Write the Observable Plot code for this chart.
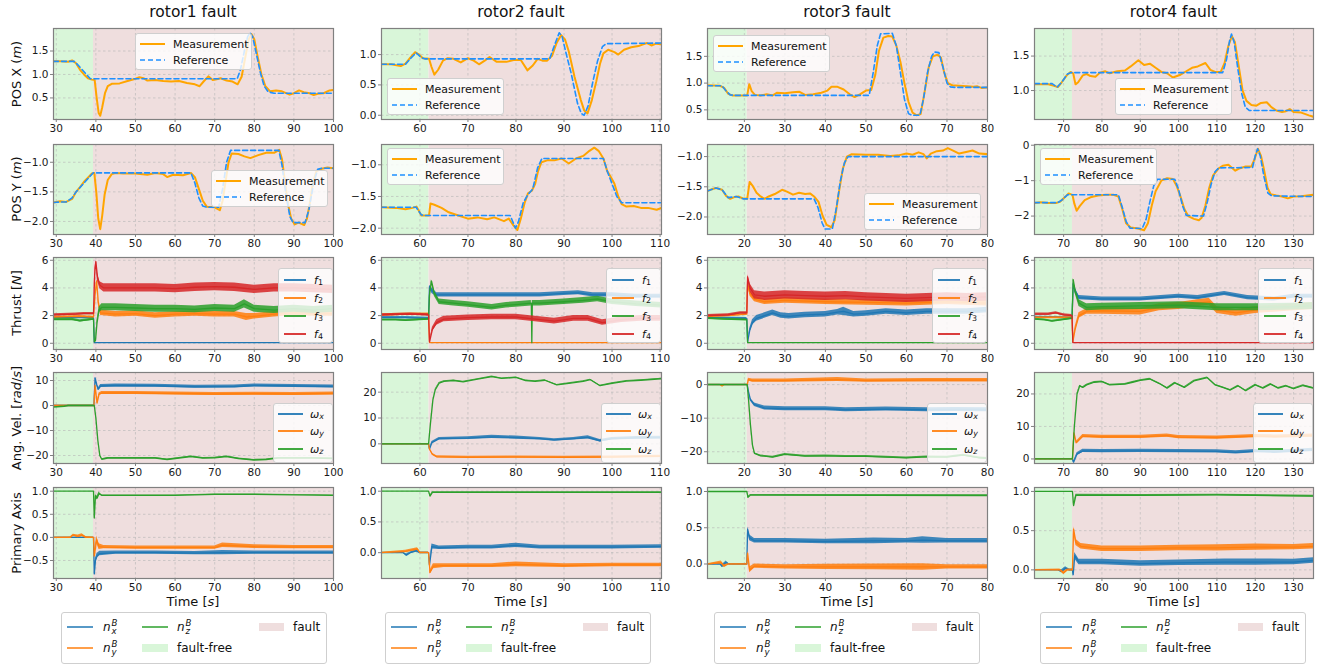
<!DOCTYPE html>
<html><head><meta charset="utf-8">
<script src="https://cdn.jsdelivr.net/npm/d3@7"></script>
<script src="https://cdn.jsdelivr.net/npm/@observablehq/plot@0.6"></script>
<style>
body{margin:0;background:#fff;font-family:"DejaVu Sans",sans-serif;}
#root{position:relative;width:1323px;height:668px;overflow:hidden;background:#fff;}
.abs{position:absolute;}
.title{position:absolute;font-size:15.5px;color:#111;transform:translate(-50%,-50%);white-space:nowrap;}
.ylab{position:absolute;font-size:13px;color:#111;transform:translate(-50%,-50%) rotate(-90deg);white-space:nowrap;}
.xlab{position:absolute;font-size:13px;color:#111;transform:translate(-50%,-50%);white-space:nowrap;}
.leg{position:absolute;box-sizing:border-box;border:1px solid #cfcfcf;border-radius:3px;background:rgba(255,255,255,0.8);font-size:11px;color:#111;}
.leg .lab{position:absolute;white-space:nowrap;transform:translateY(-50%);line-height:1;}
.leg svg.smp{position:absolute;overflow:visible;}
.ss{display:inline-flex;flex-direction:column;vertical-align:middle;font-size:0.72em;line-height:0.95;margin-left:1px;}
sub{font-size:0.72em;vertical-align:-0.25em;line-height:0;}
g[aria-label*="axis"] line, g[aria-label*="axis"] path, g[aria-label$="axis tick"] path {stroke:#808080;}
</style>
</head><body><div id="root"></div>
<script>
// ---------------- DATA ----------------
const columnTitles = ["rotor1 fault", "rotor2 fault", "rotor3 fault", "rotor4 fault"];
const xDomains = [[29.3, 100], [52, 110.3], [10.9, 80], [62.4, 135.2]];
const xTicks = [[30,40,50,60,70,80,90,100],[60,70,80,90,100,110],[20,30,40,50,60,70,80],[70,80,90,100,110,120,130]];
const faultTimes = [39.4, 61.9, 20.7, 72.3];

const rowLabels = ["POS X (<i>m</i>)", "POS Y (<i>m</i>)", "Thrust [<i>N</i>]", "Ang. Vel. [<i>rad</i>/<i>s</i>]", "Primary Axis"];

const yDomains = [
  [[0.04,1.98],[-2.22,-0.70],[-0.45,6.2],[-23.2,13.2],[-0.89,1.08]],
  [[-0.07,1.43],[-2.1,-0.68],[-0.45,6.2],[-7.6,27.6],[-0.42,1.06]],
  [[0.32,2.02],[-2.29,-0.80],[-0.45,6.2],[-23.5,3.6],[-0.2,1.055]],
  [[0.58,1.9],[-2.52,0.02],[-0.45,6.2],[-1.4,26.6],[-0.11,1.05]]
];
const yTicks = [
  [[0.5,1.0,1.5],[-2.0,-1.5,-1.0],[0,2,4,6],[-20,-10,0,10],[-0.5,0,0.5,1.0]],
  [[0,0.5,1.0],[-2.0,-1.5,-1.0],[0,2,4,6],[0,10,20],[0,0.5,1.0]],
  [[0.5,1.0,1.5],[-2.0,-1.5,-1.0],[0,2,4,6],[-20,-10,0],[0,0.5,1.0]],
  [[1.0,1.5],[-2,-1,0],[0,2,4,6],[0,10,20],[0,0.5,1.0]]
];
const yTickFormats = [
  [".1f",".1f","d","d",".1f"],
  [".1f",".1f","d","d",".1f"],
  [".1f",".1f","d","d",".1f"],
  [".1f","d","d","d",".1f"]
];

// ---- rotor1 fault ----
const c1_posX_meas = [[29.3,1.28],[31,1.28],[33,1.27],[34,1.30],[35,1.24],[36,1.1],[37,1.0],[38,0.92],[39,0.89],[39.7,0.88],[40.2,0.5],[40.7,0.18],[41.1,0.12],[41.6,0.3],[42.3,0.6],[43,0.75],[44,0.8],[46,0.81],[48,0.86],[50,0.91],[51,0.94],[52,0.92],[53,0.87],[55,0.88],[57,0.86],[59,0.85],[61,0.86],[63,0.82],[65,0.79],[66.2,0.75],[67.2,0.85],[68.4,0.96],[69.5,0.88],[70.5,0.9],[71.5,0.92],[73,0.87],[74.5,0.85],[75.8,0.79],[76.8,0.95],[77.8,1.4],[78.6,1.75],[79.3,1.86],[80,1.75],[80.8,1.4],[81.8,1.0],[82.8,0.75],[84,0.64],[85.5,0.66],[87,0.64],[88.9,0.57],[90,0.6],[91.3,0.66],[92.5,0.62],[94,0.6],[95,0.56],[96,0.59],[97.5,0.6],[99,0.66],[100,0.67]];
const c1_posX_ref = [[29.3,1.28],[34.5,1.28],[35.5,1.2],[38.6,0.91],[75.7,0.91],[76.5,1.1],[77.5,1.5],[78.3,1.8],[78.9,1.89],[79.6,1.8],[80.5,1.45],[81.5,1.05],[82.5,0.75],[83.5,0.63],[85,0.6],[100,0.6]];
const c1_posY_meas = [[29.3,-1.68],[31,-1.66],[32.5,-1.67],[34,-1.62],[35,-1.5],[36,-1.42],[37,-1.33],[38,-1.26],[39,-1.19],[39.6,-1.18],[40.1,-1.5],[40.6,-1.95],[41.1,-2.13],[41.6,-1.9],[42.2,-1.55],[43,-1.3],[44,-1.2],[45,-1.18],[47,-1.19],[50,-1.19],[53,-1.21],[55,-1.18],[57,-1.2],[58,-1.25],[59.5,-1.21],[62,-1.22],[64,-1.18],[65,-1.25],[66,-1.45],[67,-1.65],[68,-1.75],[70,-1.76],[71.3,-1.81],[72,-1.65],[72.8,-1.3],[73.5,-1.0],[74.3,-0.85],[76,-0.86],[77.5,-0.9],[79,-0.93],[81,-0.88],[83,-0.84],[85,-0.84],[86.3,-0.79],[87,-0.95],[87.7,-1.3],[88.5,-1.7],[89.3,-1.95],[90.2,-2.05],[91.2,-2.02],[92.6,-2.06],[93.3,-1.95],[94,-1.7],[94.8,-1.35],[95.7,-1.15],[97,-1.11],[98.5,-1.09],[100,-1.1]];
const c1_posY_ref = [[29.3,-1.68],[31,-1.67],[32.5,-1.67],[34,-1.6],[35,-1.5],[37,-1.35],[39.3,-1.18],[64,-1.18],[65,-1.35],[66,-1.6],[67,-1.74],[68,-1.76],[71,-1.76],[72,-1.45],[73,-1.0],[74,-0.8],[86.2,-0.8],[87,-1.05],[88,-1.55],[89,-1.92],[89.8,-2.02],[92.8,-2.02],[93.8,-1.8],[95,-1.35],[96,-1.12],[97,-1.1],[100,-1.1]];
// [time, mean, half noise width]
const c1_f1 = [[29.3,1.85,0.06],[39.4,1.85,0.06],[39.6,0.05,0],[100,0.05,0]];
const c1_f2 = [[29.3,1.9,0.06],[36,1.95,0.06],[39.4,1.9,0.06],[39.8,3.5,0.1],[40.2,4.5,0.1],[40.6,3.0,0.2],[41.2,2.2,0.2],[45,2.1,0.2],[50,2.15,0.2],[55,2.0,0.2],[60,2.1,0.2],[65,2.15,0.2],[70,2.1,0.2],[75,2.1,0.2],[78,1.9,0.25],[80,1.95,0.2],[85,2.1,0.2],[90,2.2,0.2],[95,2.15,0.2],[100,2.15,0.2]];
const c1_f3 = [[29.3,1.72,0.08],[34,1.72,0.08],[36,1.62,0.08],[39.4,1.75,0.08],[39.6,0.1,0],[39.9,0.2,0.1],[40.3,1.5,0.2],[40.8,2.4,0.2],[41.5,2.6,0.25],[45,2.6,0.25],[50,2.55,0.25],[55,2.5,0.25],[60,2.5,0.25],[65,2.45,0.25],[70,2.55,0.25],[75,2.5,0.25],[77.5,2.85,0.3],[80,2.5,0.25],[85,2.4,0.25],[90,2.5,0.25],[95,2.4,0.25],[100,2.5,0.25]];
const c1_f4 = [[29.3,2.05,0.08],[35,2.1,0.08],[37,2.15,0.08],[39.4,2.15,0.08],[39.7,5.0,0.3],[40.0,5.9,0.1],[40.4,4.8,0.3],[41,4.2,0.25],[42,4.0,0.3],[50,4.0,0.3],[55,4.0,0.3],[60,3.95,0.3],[65,4.05,0.3],[70,4.1,0.3],[75,4.05,0.3],[80,3.9,0.3],[85,4.0,0.3],[90,4.0,0.3],[95,3.95,0.3],[100,3.9,0.3]];
const c1_wx = [[29.3,0,0.1],[39.5,0,0.1],[39.8,11,0.3],[40.2,8.5,0.5],[40.6,6.5,0.5],[41.2,7.8,0.6],[45,8,0.6],[55,7.9,0.6],[65,7.5,0.6],[75,7.6,0.6],[80,8,0.6],[90,7.8,0.6],[100,7.6,0.6]];
const c1_wy = [[29.3,0,0.15],[39.5,0,0.15],[39.8,8,0.3],[40.3,1,0.3],[40.8,4.5,0.5],[41.5,5,0.6],[50,5,0.6],[60,4.8,0.6],[70,4.6,0.6],[80,4.7,0.6],[90,4.6,0.6],[100,4.8,0.6]];
const c1_wz = [[29.3,-0.6,0.1],[32,-0.3,0.1],[33,0,0.1],[39.6,0,0.1],[40.0,-5,0.2],[40.5,-14,0.2],[41,-20,0.2],[41.5,-21.5,0.2],[43,-21,0.25],[48,-21,0.25],[55,-21,0.25],[58,-21.6,0.25],[61,-21,0.25],[64,-20.4,0.25],[67,-21,0.25],[70,-20.9,0.25],[73,-20.4,0.25],[76,-21.2,0.25],[80,-21.8,0.25],[83,-21.6,0.25],[86,-21.0,0.25],[90,-21.0,0.25],[95,-21,0.25],[100,-21.2,0.25]];
const c1_nx = [[29.3,0,0.005],[39.4,0,0.005],[39.6,-0.79,0.02],[39.9,-0.5,0.05],[40.3,-0.4,0.05],[41,-0.35,0.05],[45,-0.33,0.035],[55,-0.33,0.035],[65,-0.34,0.035],[72,-0.33,0.045],[80,-0.33,0.035],[90,-0.33,0.035],[100,-0.33,0.035]];
const c1_ny = [[29.3,0,0.005],[33.5,0,0.01],[34.3,0.05,0.02],[35.5,0.02,0.03],[36.5,0.05,0.03],[37.5,0,0.02],[39.4,0,0.01],[39.6,-0.4,0.05],[40.2,-0.05,0.08],[40.8,-0.2,0.06],[42,-0.21,0.035],[50,-0.22,0.035],[60,-0.22,0.035],[70,-0.22,0.035],[72,-0.17,0.05],[80,-0.2,0.04],[90,-0.21,0.035],[100,-0.21,0.035]];
const c1_nz = [[29.3,1,0],[39.4,1,0],[39.6,0.42,0.03],[39.9,0.9,0.03],[40.3,0.85,0.04],[40.8,0.95,0.03],[41.5,0.91,0.01],[60,0.91,0.01],[70,0.93,0.01],[80,0.93,0.01],[90,0.92,0.01],[100,0.91,0.01]];

// ---- rotor2 fault ----
const c2_posX_meas = [[52,0.84],[54,0.84],[56,0.81],[57,0.85],[58,0.95],[59,1.04],[59.8,1.0],[60.6,0.94],[61.9,0.93],[62.4,0.8],[63,0.67],[63.8,0.75],[64.8,0.9],[65.8,0.94],[67,0.93],[68.5,0.87],[70,0.94],[71.2,0.9],[72.3,0.84],[73.5,0.9],[74.5,0.96],[76,0.88],[78,0.88],[79.5,0.91],[81,0.91],[82.4,0.74],[83.5,0.82],[84.5,0.93],[85.5,0.9],[86.5,0.9],[87.5,0.98],[88.5,1.2],[89.4,1.32],[90.2,1.25],[91,1.05],[92.2,0.63],[93.5,0.25],[94.2,0.08],[94.9,0.03],[95.8,0.25],[96.7,0.55],[97.5,0.85],[98.2,1.02],[99.2,1.08],[100.5,1.04],[101.3,1.0],[102.5,1.08],[104,1.12],[105.5,1.14],[106.5,1.17],[107.3,1.19],[108.2,1.15],[109.2,1.18],[110.3,1.17]];
const c2_posX_ref = [[52,0.84],[57,0.84],[58,0.93],[59.2,1.03],[60.3,0.95],[61,0.93],[87,0.93],[88,1.15],[89,1.36],[89.6,1.3],[90.5,1.0],[91.5,0.69],[92.8,0.2],[93.6,0.03],[94.2,0.0],[95,0.15],[96,0.55],[97,0.9],[98,1.13],[98.8,1.18],[110.3,1.19]];
const c2_posY_meas = [[52,-1.67],[55,-1.68],[57,-1.7],[58.5,-1.68],[59.3,-1.66],[60.3,-1.8],[61.9,-1.8],[62.2,-1.61],[63,-1.63],[64.5,-1.68],[66,-1.75],[68,-1.8],[70,-1.85],[72,-1.83],[74,-1.86],[75.5,-1.83],[77.5,-1.89],[78.5,-1.85],[79.5,-1.96],[80.3,-2.03],[81,-1.85],[81.8,-1.6],[82.5,-1.45],[83.3,-1.41],[84,-1.3],[84.6,-1.1],[85.3,-0.96],[86.5,-0.93],[88,-0.93],[89.5,-0.9],[91,-0.98],[92.5,-0.9],[94,-0.86],[95.3,-0.78],[96.3,-0.73],[97.2,-0.78],[98.2,-0.9],[99,-1.1],[99.8,-1.2],[100.5,-1.3],[101.3,-1.5],[102,-1.62],[103,-1.66],[104.5,-1.65],[106,-1.68],[107.5,-1.68],[109.3,-1.71],[110.3,-1.68]];
const c2_posY_ref = [[52,-1.67],[59.2,-1.67],[60.3,-1.79],[61,-1.8],[78.8,-1.8],[79.9,-2.0],[80.5,-1.9],[81.5,-1.6],[82.5,-1.47],[83.5,-1.38],[84.5,-1.05],[85.4,-0.9],[98.2,-0.9],[99,-1.1],[100,-1.3],[101,-1.5],[102,-1.6],[110.3,-1.6]];
const c2_f1 = [[52,1.85,0.08],[57,1.85,0.08],[61.8,1.8,0.08],[62.0,4.1,0.1],[62.5,3.8,0.2],[63.5,3.5,0.15],[70,3.5,0.15],[75,3.5,0.15],[80,3.5,0.15],[85,3.5,0.15],[90,3.6,0.15],[93,3.65,0.15],[96,3.5,0.15],[100,3.5,0.15],[105,3.4,0.15],[110.3,3.4,0.15]];
const c2_f2 = [[52,2.05,0.08],[58,2.1,0.08],[61.8,2.1,0.08],[62.0,0.05,0],[110.3,0.05,0]];
const c2_f3 = [[52,1.7,0.06],[55,1.7,0.06],[57,1.65,0.06],[61.8,1.75,0.06],[62.0,3.5,0.2],[62.4,4.5,0.1],[63,3.6,0.2],[64,3.0,0.2],[67,2.9,0.2],[70,2.8,0.2],[75,2.6,0.2],[78,2.75,0.2],[80,2.8,0.2],[83.2,2.9,0.2],[83.3,0.05,0],[83.4,2.9,0.2],[85,2.9,0.2],[90,3.0,0.2],[94,3.1,0.2],[97,3.2,0.2],[100,3.0,0.2],[105,2.85,0.2],[110.3,2.75,0.2]];
const c2_f4 = [[52,2.05,0.08],[58,2.1,0.08],[61.8,2.05,0.08],[62.0,0.1,0.05],[62.6,1.0,0.15],[63.5,1.5,0.2],[65,1.75,0.2],[70,1.85,0.2],[75,1.9,0.2],[80,1.9,0.2],[84,1.75,0.2],[88,1.6,0.2],[92,1.8,0.2],[95,1.8,0.2],[98,1.5,0.2],[102,1.7,0.2],[106,1.8,0.2],[110.3,1.8,0.2]];
const c2_wx = [[52,0,0.1],[61.8,0,0.1],[62.0,-2,0.3],[62.5,0.5,0.4],[64,2,0.5],[70,2.2,0.5],[75,2.7,0.6],[80,2.4,0.6],[85,2.0,0.5],[88,1.5,0.5],[92,2.0,0.5],[95,2.5,0.6],[97.5,1.2,0.5],[100,2.0,0.5],[105,2.3,0.5],[110.3,2.4,0.5]];
const c2_wy = [[52,0,0.1],[61.8,0,0.1],[62.0,-2,0.3],[62.6,-4,0.4],[63.5,-5,0.4],[70,-5.2,0.4],[80,-5.1,0.4],[90,-5.2,0.4],[100,-5.1,0.4],[110.3,-4.8,0.4]];
const c2_wz = [[52,0,0.1],[61.8,0,0.1],[62.2,8,0.2],[62.7,17,0.2],[63.2,21,0.2],[64,23.5,0.2],[65,24.2,0.2],[67,24.5,0.2],[69,24.0,0.2],[72,25.0,0.2],[75,26,0.2],[77,25.3,0.2],[80,25.7,0.2],[82,24.5,0.2],[84,24.2,0.2],[86,24.6,0.2],[88.5,22.8,0.2],[91,23.4,0.2],[94,24.2,0.2],[95.5,24.8,0.2],[97.5,22.5,0.2],[100,23.4,0.2],[103,24.3,0.2],[106,24.6,0.2],[110.3,25.2,0.2]];
const c2_nx = [[52,0,0.005],[56.5,0,0.005],[57.2,-0.04,0.02],[58,0,0.01],[59.3,0.03,0.02],[60,0,0.01],[61.8,0,0.01],[62.0,-0.2,0.03],[62.5,0.1,0.04],[64,0.08,0.03],[70,0.09,0.03],[75,0.09,0.03],[80,0.12,0.035],[85,0.09,0.03],[90,0.09,0.03],[100,0.09,0.03],[110.3,0.1,0.03]];
const c2_ny = [[52,0,0.005],[57,0.02,0.02],[59.5,0.06,0.02],[60,0,0.01],[61.8,0,0.01],[62.1,-0.32,0.03],[62.8,-0.22,0.04],[65,-0.21,0.03],[75,-0.21,0.03],[80,-0.19,0.04],[90,-0.21,0.03],[100,-0.2,0.03],[110.3,-0.2,0.03]];
const c2_nz = [[52,1,0],[61.8,1,0],[62.1,0.92,0.01],[62.6,0.98,0.01],[110.3,0.98,0.01]];

// ---- rotor3 fault ----
const c3_posX_meas = [[10.9,0.96],[14,0.95],[15,0.91],[16,0.8],[17,0.77],[20.7,0.77],[21.2,0.98],[21.8,0.85],[22.6,0.78],[24,0.77],[25.5,0.79],[27,0.77],[28,0.82],[30,0.81],[32,0.83],[33.5,0.84],[35,0.78],[37,0.79],[39,0.82],[40.5,0.86],[41.5,0.93],[43,0.93],[44.5,0.88],[46,0.79],[47.2,0.74],[48.5,0.79],[50,0.86],[51.3,0.87],[52.3,1.15],[53.2,1.6],[54.3,1.85],[55.5,1.88],[56.5,1.87],[57.5,1.7],[58.5,1.4],[59.5,1.0],[60.5,0.65],[61.5,0.45],[62.5,0.4],[63.5,0.42],[64.4,0.8],[65.5,1.3],[66.5,1.5],[67.7,1.53],[68.5,1.48],[69.3,1.2],[70.2,1.0],[71.3,0.96],[73,0.95],[75,0.94],[76.5,0.93],[77.5,0.94],[78.5,0.91],[80,0.92]];
const c3_posX_ref = [[10.9,0.95],[14.5,0.95],[15.5,0.85],[16.5,0.78],[17.5,0.77],[50.8,0.77],[51.8,1.2],[52.8,1.7],[53.6,1.92],[56.5,1.93],[57.5,1.7],[58.5,1.2],[59.5,0.7],[60.5,0.43],[61.3,0.4],[63.3,0.4],[64.2,0.7],[65.2,1.2],[66.2,1.5],[66.9,1.58],[68,1.57],[69,1.3],[70,1.0],[70.8,0.93],[72,0.92],[80,0.92]];
const c3_posY_meas = [[10.9,-1.57],[12,-1.54],[13,-1.52],[14.5,-1.55],[15.5,-1.65],[16.5,-1.7],[17.5,-1.67],[18.5,-1.66],[19.5,-1.69],[20.7,-1.7],[21.3,-1.42],[22,-1.48],[23,-1.6],[24,-1.66],[25,-1.7],[26,-1.66],[27.5,-1.62],[29.3,-1.55],[30.5,-1.58],[32,-1.63],[33.5,-1.6],[35,-1.62],[36.2,-1.61],[37.2,-1.66],[38.3,-1.75],[39.3,-1.98],[40.3,-2.13],[41.5,-2.17],[42.3,-2.05],[43.3,-1.6],[44.3,-1.2],[45.3,-1.0],[46.5,-0.96],[50,-0.97],[53,-0.97],[56,-0.99],[58,-0.98],[60,-0.95],[61.5,-0.97],[63,-0.93],[64.2,-0.96],[65,-1.03],[66,-0.95],[67.5,-0.91],[69,-0.9],[70.2,-0.86],[71.5,-0.9],[73,-0.95],[75,-0.92],[76.3,-0.9],[78,-0.95],[80,-0.96]];
const c3_posY_ref = [[10.9,-1.57],[13,-1.52],[14.5,-1.55],[16,-1.68],[18,-1.66],[19.7,-1.7],[37.2,-1.7],[38.2,-1.85],[39.2,-2.1],[39.9,-2.2],[41.7,-2.2],[42.7,-1.85],[43.7,-1.4],[44.7,-1.1],[45.6,-1.0],[80,-1.0]];
const c3_f1 = [[10.9,1.85,0.06],[20.6,1.8,0.06],[20.8,0.1,0.05],[21.3,0.9,0.15],[22,1.5,0.2],[23,1.8,0.2],[25,2.0,0.2],[27,2.2,0.2],[29,2.0,0.2],[31,1.95,0.2],[35,2.05,0.2],[40,2.1,0.2],[43,2.25,0.2],[44.5,2.3,0.3],[47,2.1,0.2],[50,2.15,0.2],[55,2.3,0.2],[60,2.2,0.2],[65,2.3,0.2],[70,2.3,0.2],[75,2.3,0.2],[80,2.4,0.2]];
const c3_f2 = [[10.9,1.95,0.06],[16,2.0,0.06],[20.6,2.1,0.06],[20.8,4.3,0.15],[21.4,3.6,0.2],[22.5,3.2,0.2],[25,3.0,0.2],[30,3.1,0.2],[40,3.0,0.2],[50,2.95,0.2],[60,2.9,0.2],[70,3.0,0.2],[80,2.9,0.2]];
const c3_f3 = [[10.9,1.8,0.06],[15,1.75,0.06],[20.6,1.7,0.06],[20.8,0.05,0],[80,0.05,0]];
const c3_f4 = [[10.9,2.0,0.08],[16,2.05,0.08],[19,2.2,0.08],[20.6,2.2,0.08],[20.8,4.8,0.15],[21.4,4.0,0.3],[22.5,3.5,0.3],[25,3.4,0.3],[30,3.5,0.3],[35,3.45,0.3],[40,3.4,0.3],[45,3.45,0.3],[50,3.35,0.3],[55,3.3,0.3],[60,3.25,0.3],[65,3.3,0.3],[70,3.35,0.3],[75,3.3,0.3],[80,3.35,0.3]];
const c3_wx = [[10.9,0,0.1],[20.7,0,0.1],[21.0,-2,0.3],[21.5,-4.5,0.4],[22.5,-6,0.5],[25,-7,0.6],[30,-7.2,0.6],[40,-7.2,0.6],[45,-7.5,0.6],[55,-7.3,0.6],[65,-7.5,0.6],[72,-7.4,0.6],[80,-7.5,0.6]];
const c3_wy = [[10.9,0,0.1],[14,0,0.1],[14.5,-0.4,0.1],[15,0,0.1],[20.7,0,0.1],[21,1.5,0.4],[22,1.2,0.5],[30,1.2,0.5],[43,1.5,0.6],[50,1.2,0.5],[65,1.3,0.5],[80,1.3,0.5]];
const c3_wz = [[10.9,0,0.1],[20.7,0,0.1],[21.0,-4,0.2],[21.5,-12,0.2],[22,-18,0.2],[22.5,-20.5,0.2],[24,-21.2,0.25],[27,-21.6,0.25],[30,-20.8,0.25],[35,-21.3,0.25],[40,-21.2,0.25],[45,-21.4,0.25],[50,-21.4,0.25],[55,-21.6,0.25],[60,-21.8,0.25],[65,-21.5,0.25],[70,-21.6,0.25],[74,-21.0,0.25],[78,-21.8,0.25],[80,-22,0.25]];
const c3_nx = [[10.9,0,0.005],[14,0,0.005],[14.5,-0.03,0.02],[15.5,0.02,0.02],[16.2,0,0.005],[20.6,0,0.005],[20.8,0.48,0.03],[21.3,0.36,0.04],[22.5,0.32,0.03],[30,0.32,0.03],[40,0.31,0.03],[52,0.32,0.04],[60,0.32,0.03],[64,0.33,0.045],[70,0.32,0.03],[80,0.32,0.03]];
const c3_ny = [[10.9,0,0.005],[14.3,0.02,0.02],[15,-0.03,0.02],[16,0,0.005],[20.6,0,0.005],[20.8,0.15,0.03],[21.3,-0.08,0.04],[22.5,-0.03,0.03],[30,-0.04,0.03],[40,-0.04,0.035],[52,-0.04,0.04],[64,-0.04,0.045],[70,-0.04,0.03],[80,-0.04,0.03]];
const c3_nz = [[10.9,1,0],[20.6,1,0],[20.9,0.92,0.01],[21.5,0.95,0.01],[80,0.945,0.01]];

// ---- rotor4 fault ----
const c4_posX_meas = [[62.4,1.09],[66,1.09],[67.5,1.07],[68.5,1.05],[69.5,1.12],[70.8,1.22],[71.8,1.27],[72.5,1.25],[73.1,1.09],[73.8,1.12],[75,1.22],[76,1.24],[77,1.21],[78.3,1.2],[79.5,1.26],[80.8,1.28],[82,1.25],[84,1.28],[86,1.29],[87.5,1.35],[89.5,1.44],[91,1.37],[92.5,1.39],[94,1.33],[95.5,1.27],[97,1.25],[98.5,1.19],[100.5,1.23],[102,1.28],[103.5,1.33],[105,1.35],[107,1.4],[108.3,1.3],[109.5,1.27],[111,1.27],[112,1.4],[113,1.65],[113.9,1.79],[114.7,1.7],[115.7,1.35],[116.7,1.0],[117.7,0.85],[119,0.79],[120.3,0.78],[121.5,0.82],[123,0.83],[124.2,0.76],[125.5,0.71],[127,0.69],[128,0.7],[129,0.73],[130,0.69],[132,0.68],[134,0.64],[135.2,0.62]];
const c4_posX_ref = [[62.4,1.1],[67,1.1],[68.3,1.05],[69.5,1.12],[71,1.24],[72,1.26],[111.5,1.26],[112.5,1.45],[113.3,1.72],[113.8,1.82],[114.5,1.7],[115.5,1.3],[116.5,0.95],[117.4,0.76],[118.5,0.71],[135.2,0.71]];
const c4_posY_meas = [[62.4,-1.63],[64,-1.61],[66,-1.63],[68,-1.63],[69,-1.6],[70.5,-1.45],[71.3,-1.36],[72.3,-1.4],[72.8,-1.65],[73.4,-1.85],[74.2,-1.72],[75.5,-1.55],[77,-1.47],[79,-1.42],[81,-1.4],[83,-1.4],[84.3,-1.45],[85.3,-1.8],[86.3,-2.2],[87.5,-2.32],[89.5,-2.35],[91,-2.4],[92,-2.2],[93,-1.7],[94,-1.3],[95.5,-1.0],[97,-0.93],[98.5,-0.95],[99.5,-1.15],[100.5,-1.45],[101.5,-1.8],[102.5,-2.0],[104,-2.08],[105.3,-2.12],[106,-2.05],[107,-1.7],[108,-1.2],[109,-0.85],[110.5,-0.65],[111.5,-0.58],[113,-0.55],[114.8,-0.72],[116,-0.65],[117.5,-0.6],[119,-0.6],[119.8,-0.4],[120.7,-0.1],[121.5,-0.3],[122.3,-0.7],[123.2,-1.2],[124,-1.38],[125.5,-1.42],[127,-1.45],[128.5,-1.5],[130,-1.45],[132,-1.44],[135.2,-1.4]];
const c4_posY_ref = [[62.4,-1.62],[68.5,-1.62],[69.5,-1.55],[71,-1.4],[84.3,-1.4],[85.3,-1.75],[86.3,-2.15],[87.3,-2.34],[90.5,-2.35],[91.5,-2.1],[92.5,-1.6],[93.5,-1.15],[94.5,-0.96],[99,-0.96],[100,-1.25],[101,-1.7],[102,-1.98],[106.5,-2.0],[107.5,-1.6],[108.5,-1.1],[109.5,-0.75],[110.5,-0.64],[119.3,-0.63],[120,-0.3],[120.6,-0.1],[121.3,-0.3],[122.3,-0.9],[123.3,-1.35],[124.3,-1.43],[135.2,-1.45]];
const c4_f1 = [[62.4,1.9,0.06],[72.2,1.85,0.06],[72.5,4.3,0.1],[73,3.8,0.2],[74,3.3,0.15],[80,3.2,0.15],[90,3.2,0.15],[100,3.4,0.15],[105,3.3,0.15],[112,3.6,0.15],[118,3.3,0.15],[125,3.2,0.15],[130,3.4,0.15],[135.2,3.4,0.15]];
const c4_f2 = [[62.4,1.85,0.06],[72.2,1.85,0.06],[72.4,0.1,0.05],[73,1.0,0.2],[74,2.0,0.2],[76,2.3,0.2],[80,2.35,0.25],[90,2.3,0.25],[95,2.6,0.25],[100,2.7,0.25],[105,2.9,0.25],[108,3.0,0.25],[110,2.4,0.25],[115,2.2,0.25],[120,2.4,0.25],[125,2.5,0.25],[130,2.6,0.25],[135.2,2.7,0.25]];
const c4_f3 = [[62.4,1.75,0.06],[65,1.7,0.06],[67,1.6,0.06],[72.2,1.8,0.06],[72.5,4.6,0.1],[73,3.8,0.2],[74,2.9,0.25],[76,2.6,0.25],[80,2.65,0.25],[90,2.7,0.25],[100,2.75,0.25],[110,2.6,0.25],[120,2.6,0.25],[130,2.65,0.25],[135.2,2.7,0.25]];
const c4_f4 = [[62.4,2.1,0.08],[66,2.1,0.08],[68,2.2,0.08],[70,2.05,0.08],[72.2,2.0,0.08],[72.4,0.05,0],[135.2,0.05,0]];
const c4_wx = [[62.4,0,0.1],[72.3,0,0.1],[72.6,-1,0.3],[73.5,1.5,0.4],[75,2.5,0.5],[80,2.4,0.5],[90,2.5,0.5],[100,2.4,0.5],[110,2.3,0.5],[115,2.0,0.5],[120,2.4,0.5],[125,2.2,0.5],[135.2,2.8,0.5]];
const c4_wy = [[62.4,0,0.1],[72.3,0,0.1],[72.7,8,0.3],[73.3,5,0.4],[75,7,0.5],[80,6.8,0.5],[90,6.8,0.5],[97,7.2,0.5],[100,6.7,0.5],[110,6.6,0.5],[120,7.0,0.5],[125,6.9,0.5],[135.2,7.2,0.5]];
const c4_wz = [[62.4,0,0.1],[72.3,0,0.1],[72.8,10,0.2],[73.5,20,0.2],[74.2,22.5,0.2],[75,22,0.2],[76,22.8,0.2],[78,23.6,0.2],[80,23.8,0.2],[82,22.8,0.2],[86,23.0,0.2],[88,23.6,0.2],[90,24.2,0.2],[92.5,24.6,0.2],[95,23.2,0.2],[97,21.8,0.2],[99,23.4,0.2],[101.5,22.0,0.2],[104,24.0,0.2],[107.5,25.0,0.2],[109.5,22.8,0.2],[111.5,22.0,0.2],[113.5,21.2,0.2],[115.5,22.5,0.2],[117.5,21.0,0.2],[120,22.8,0.2],[122,21.8,0.2],[124,23.0,0.2],[126,21.8,0.2],[128,22.5,0.2],[130,21.6,0.2],[132.5,22.6,0.2],[135.2,21.8,0.2]];
const c4_nx = [[62.4,0,0.005],[68.5,0,0.005],[69.5,-0.02,0.02],[70.5,0.02,0.02],[71.5,0,0.01],[72.3,0,0.01],[72.5,-0.06,0.03],[72.9,0.18,0.04],[74,0.1,0.035],[80,0.1,0.035],[90,0.08,0.035],[100,0.09,0.035],[112,0.1,0.04],[120,0.1,0.04],[130,0.1,0.035],[135.2,0.12,0.035]];
const c4_ny = [[62.4,0,0.005],[69,0,0.01],[70,-0.04,0.02],[71,0,0.01],[72.3,0,0.01],[72.6,0.52,0.03],[73.2,0.35,0.04],[74.5,0.3,0.035],[80,0.27,0.035],[90,0.27,0.035],[100,0.28,0.035],[110,0.28,0.04],[120,0.29,0.04],[130,0.29,0.035],[135.2,0.3,0.035]];
const c4_nz = [[62.4,1,0],[72.3,1,0],[72.6,0.82,0.02],[73.2,0.95,0.015],[90,0.95,0.01],[110,0.955,0.01],[135.2,0.94,0.01]];

// ---------------- STYLE / LAYOUT ----------------
const C_BLUE="#1f77b4", C_ORANGE="#ff7f0e", C_GREEN="#2ca02c", C_RED="#d62728";
const C_MEAS="#ffa500", C_REF="#1e90ff";
const C_FREE="#d9f6d9", C_FAULT="#efdede", C_GRID="#b8b8b8";
const colLeft=[53,381,707,1034], colW=[280,280,280,279];
const rowTop=[28,144,257,372,487], rowH=[91,90,92,91,91];
const ML=45, MR=12, MT=6, MB=20;

const cols = [
  {pos:[c1_posX_meas,c1_posX_ref,c1_posY_meas,c1_posY_ref], f:[c1_f1,c1_f2,c1_f3,c1_f4], w:[c1_wx,c1_wy,c1_wz], n:[c1_nx,c1_ny,c1_nz]},
  {pos:[c2_posX_meas,c2_posX_ref,c2_posY_meas,c2_posY_ref], f:[c2_f1,c2_f2,c2_f3,c2_f4], w:[c2_wx,c2_wy,c2_wz], n:[c2_nx,c2_ny,c2_nz]},
  {pos:[c3_posX_meas,c3_posX_ref,c3_posY_meas,c3_posY_ref], f:[c3_f1,c3_f2,c3_f3,c3_f4], w:[c3_wx,c3_wy,c3_wz], n:[c3_nx,c3_ny,c3_nz]},
  {pos:[c4_posX_meas,c4_posX_ref,c4_posY_meas,c4_posY_ref], f:[c4_f1,c4_f2,c4_f3,c4_f4], w:[c4_wx,c4_wy,c4_wz], n:[c4_nx,c4_ny,c4_nz]}
];

const root = document.getElementById("root");

function noisy(data, color) {
  return [
    Plot.areaY(data, {x: d=>d[0], y1: d=>d[1]-d[2], y2: d=>d[1]+d[2], fill: color, fillOpacity: 0.85, clip: true}),
    Plot.line(data, {x: d=>d[0], y: d=>d[1], stroke: color, strokeWidth: 1.3, clip: true})
  ];
}

function panel(ci, ri, seriesMarks) {
  const xd = xDomains[ci];
  const W = colW[ci] + ML + MR, H = rowH[ri] + MT + MB;
  const marks = [
    Plot.rect([{a: xd[0], b: faultTimes[ci]}], {x1: "a", x2: "b", fill: C_FREE}),
    Plot.rect([{a: faultTimes[ci], b: xd[1]}], {x1: "a", x2: "b", fill: C_FAULT}),
    Plot.ruleX(xTicks[ci], {stroke: C_GRID, strokeWidth: 0.8, strokeDasharray: "2.5,2.5", strokeOpacity: 0.8}),
    Plot.ruleY(yTicks[ci][ri], {stroke: C_GRID, strokeWidth: 0.8, strokeDasharray: "2.5,2.5", strokeOpacity: 0.8}),
    ...seriesMarks,
    Plot.frame({stroke: "#808080", strokeWidth: 1.2})
  ];
  const svg = Plot.plot({
    width: W, height: H, marginLeft: ML, marginRight: MR, marginTop: MT, marginBottom: MB,
    x: {domain: xd, ticks: xTicks[ci], tickFormat: d3.format("d"), tickSize: 3, tickPadding: 2, label: null},
    y: {domain: yDomains[ci][ri], ticks: yTicks[ci][ri], tickFormat: d3.format(yTickFormats[ci][ri]), tickSize: 3, tickPadding: 2, label: null},
    style: {background: "transparent", fontFamily: "'DejaVu Sans', sans-serif", fontSize: "10.5px", color: "#1a1a1a", overflow: "visible"},
    marks
  });
  svg.style.position = "absolute";
  svg.style.left = (colLeft[ci] - ML) + "px";
  svg.style.top = (rowTop[ri] - MT) + "px";
  svg.style.maxWidth = "none";
  root.appendChild(svg);
}

cols.forEach((c, ci) => {
  const line = (d, color, w, dash) => Plot.line(d, {x: p=>p[0], y: p=>p[1], stroke: color, strokeWidth: w, strokeDasharray: dash, clip: true});
  panel(ci, 0, [line(c.pos[0], C_MEAS, 2), line(c.pos[1], C_REF, 1.6, "5,3")]);
  panel(ci, 1, [line(c.pos[2], C_MEAS, 2), line(c.pos[3], C_REF, 1.6, "5,3")]);
  panel(ci, 2, [...noisy(c.f[0], C_BLUE), ...noisy(c.f[1], C_ORANGE), ...noisy(c.f[2], C_GREEN), ...noisy(c.f[3], C_RED)]);
  panel(ci, 3, [...noisy(c.w[0], C_BLUE), ...noisy(c.w[1], C_ORANGE), ...noisy(c.w[2], C_GREEN)]);
  panel(ci, 4, [...noisy(c.n[0], C_BLUE), ...noisy(c.n[1], C_ORANGE), ...noisy(c.n[2], C_GREEN)]);
});

// ---------------- TEXT ----------------
function addDiv(cls, html, x, y) {
  const d = document.createElement("div");
  d.className = cls; d.innerHTML = html;
  d.style.left = x + "px"; d.style.top = y + "px";
  root.appendChild(d);
}
columnTitles.forEach((t, ci) => {
  const cx = colLeft[ci] + colW[ci] / 2;
  addDiv("title", t, cx, 12);
  addDiv("xlab", "Time [<i>s</i>]", cx, 601);
});
rowLabels.forEach((t, ri) => addDiv("ylab", t, 16, rowTop[ri] + rowH[ri] / 2));

// ---------------- LEGENDS ----------------
function sampleSvg(kind, color, x, y, w, sw) {
  if (kind === "patch") return `<svg class="smp" style="left:${x}px;top:${y-4}px" width="${w}" height="8"><rect width="${w}" height="8" fill="${color}"/></svg>`;
  const dash = kind === "dash" ? `stroke-dasharray="5,3"` : "";
  return `<svg class="smp" style="left:${x}px;top:${y-3}px" width="${w}" height="6"><line x1="0" x2="${w}" y1="3" y2="3" stroke="${color}" stroke-width="${sw}" ${dash}/></svg>`;
}
function legend(left, top, w, h, items, fontSize) {
  const d = document.createElement("div");
  d.className = "leg";
  d.style.left = left + "px"; d.style.top = top + "px";
  d.style.width = w + "px"; d.style.height = h + "px";
  if (fontSize) d.style.fontSize = fontSize + "px";
  d.innerHTML = items.map(it => sampleSvg(it.kind, it.color, it.sx, it.y, it.sw || 25, it.lw || 1.5) +
    `<span class="lab" style="left:${it.lx}px;top:${it.y}px">${it.label}</span>`).join("");
  root.appendChild(d);
}
const measItems = [
  {kind: "solid", color: C_MEAS, lw: 2, sx: 4, y: 10, lx: 37, label: "Measurement"},
  {kind: "dash", color: C_REF, lw: 1.6, sx: 4, y: 26, lx: 37, label: "Reference"}
];
const measLegendPos = [[[135,33],[211,170]],[[387,78],[387,148]],[[713,35],[864,193]],[[1115,78],[1040,148]]];
measLegendPos.forEach(pp => pp.forEach(p => legend(p[0], p[1], 117, 37, measItems)));

const fItems = [C_BLUE, C_ORANGE, C_GREEN, C_RED].map((c, i) => ({kind: "solid", color: c, lw: 1.8, sx: 5, sw: 22, y: [11, 29, 47, 65][i], lx: 35, label: `<i>f</i><sub>${i+1}</sub>`}));
const wItems = [C_BLUE, C_ORANGE, C_GREEN].map((c, i) => ({kind: "solid", color: c, lw: 1.8, sx: 4, y: [10, 27, 45][i], lx: 36, label: `<i>ω</i><sub><i>${"xyz"[i]}</i></sub>`}));
colLeft.forEach((l, ci) => {
  const right = l + colW[ci];
  legend(right - 55, 268, 55, 75, fItems);
  legend(right - 60, 403, 60, 60, wItems);
});

const nb = (s) => `<i>n</i><span class="ss"><i>B</i><i>${s}</i></span>`;
const bottomItems = [
  {kind: "solid", color: C_BLUE, lw: 1.5, sx: 5, sw: 26, y: 14, lx: 41, label: nb("x")},
  {kind: "solid", color: C_ORANGE, lw: 1.5, sx: 5, sw: 26, y: 35, lx: 41, label: nb("y")},
  {kind: "solid", color: C_GREEN, lw: 1.5, sx: 80, sw: 26, y: 14, lx: 115, label: nb("z")},
  {kind: "patch", color: C_FREE, sx: 80, sw: 26, y: 35, lx: 115, label: "fault-free"},
  {kind: "patch", color: C_FAULT, sx: 197, sw: 25, y: 14, lx: 231, label: "fault"}
];
[61, 385, 714, 1040].forEach(l => legend(l, 612, 266, 52, bottomItems, 12));
</script>
</body></html>
